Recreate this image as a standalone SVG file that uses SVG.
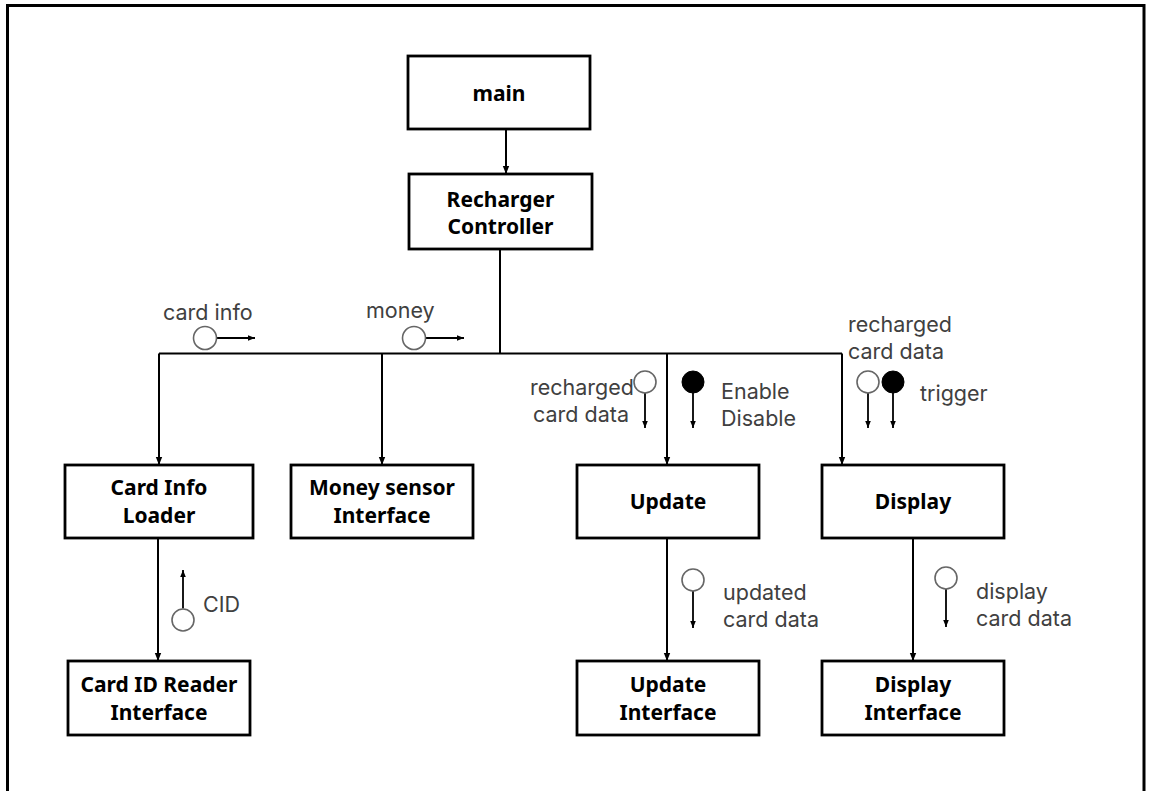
<svg xmlns="http://www.w3.org/2000/svg" width="1152" height="791" viewBox="0 0 1152 791">
<defs>
<marker id="ah" markerWidth="8" markerHeight="8" viewBox="0 0 8 8" refX="8" refY="4" orient="auto" markerUnits="userSpaceOnUse">
<path d="M0,0.8 L8,4 L0,7.2 Z" fill="#000"/>
</marker>
<marker id="ahs" markerWidth="7" markerHeight="7" viewBox="0 0 8 8" refX="8" refY="4" orient="auto" markerUnits="userSpaceOnUse">
<path d="M0,0.8 L8,4 L0,7.2 Z" fill="#000"/>
</marker>
</defs>
<style>
.box{fill:#fff;stroke:#000;stroke-width:2.8}
.nt{font-family:"Noto Sans","Liberation Sans",sans-serif;font-weight:bold;font-size:21px;fill:#000;text-anchor:middle}
.lb{font-family:Inter,"Noto Sans","Liberation Sans",sans-serif;font-size:21.5px;fill:#404040}
.cn{fill:none;stroke:#000;stroke-width:2}
.fl{fill:none;stroke:#000;stroke-width:1.8}
.oc{fill:#fff;stroke:#666;stroke-width:1.6}
.fc{fill:#000;stroke:#000;stroke-width:1}
</style>
<rect width="1152" height="791" fill="#fff"/>
<path d="M7.5,791 V5.5 H1144 V791" fill="none" stroke="#000" stroke-width="3"/>

<g id="connectors">
<line class="cn" x1="506" y1="129" x2="506" y2="174" marker-end="url(#ah)"/>
<path class="cn" d="M500,249 V353.5"/>
<path class="cn" d="M842,353.5 H159"/>
<line class="cn" x1="159" y1="353.5" x2="159" y2="465" marker-end="url(#ah)"/>
<line class="cn" x1="382" y1="353.5" x2="382" y2="465" marker-end="url(#ah)"/>
<line class="cn" x1="667" y1="353.5" x2="667" y2="465" marker-end="url(#ah)"/>
<line class="cn" x1="842" y1="353.5" x2="842" y2="465" marker-end="url(#ah)"/>
<line class="cn" x1="158" y1="538" x2="158" y2="661" marker-end="url(#ah)"/>
<line class="cn" x1="667" y1="538" x2="667" y2="661" marker-end="url(#ah)"/>
<line class="cn" x1="913" y1="538" x2="913" y2="661" marker-end="url(#ah)"/>
</g>

<g id="flows">
<g id="flow-card-info">
<line class="fl" x1="216.5" y1="338" x2="255" y2="338" marker-end="url(#ahs)"/>
<circle class="oc" cx="205" cy="338" r="11.5"/>
<text class="lb" x="163" y="320">card info</text>
</g>
<g id="flow-money">
<line class="fl" x1="425.5" y1="338" x2="464" y2="338" marker-end="url(#ahs)"/>
<circle class="oc" cx="414" cy="338" r="11.5"/>
<text class="lb" x="366" y="318">money</text>
</g>
<g id="flow-recharged-1">
<line class="fl" x1="645" y1="393" x2="645" y2="428" marker-end="url(#ahs)"/>
<circle class="oc" cx="645" cy="382" r="11"/>
<text class="lb" x="530" y="395">recharged</text>
<text class="lb" x="533" y="422">card data</text>
</g>
<g id="flow-enable">
<line class="fl" x1="693" y1="393" x2="693" y2="428" marker-end="url(#ahs)"/>
<circle class="fc" cx="693" cy="382" r="11"/>
<text class="lb" x="721" y="399">Enable</text>
<text class="lb" x="721" y="426">Disable</text>
</g>
<g id="flow-recharged-2">
<line class="fl" x1="868" y1="393" x2="868" y2="428" marker-end="url(#ahs)"/>
<circle class="oc" cx="868" cy="382" r="11"/>
<line class="fl" x1="893" y1="393" x2="893" y2="428" marker-end="url(#ahs)"/>
<circle class="fc" cx="893" cy="382" r="11"/>
<text class="lb" x="848" y="332">recharged</text>
<text class="lb" x="848" y="359">card data</text>
<text class="lb" x="920" y="401">trigger</text>
</g>
<g id="flow-cid">
<line class="fl" x1="183" y1="608.5" x2="183" y2="570" marker-end="url(#ahs)"/>
<circle class="oc" cx="183" cy="620" r="11"/>
<text class="lb" x="203" y="612">CID</text>
</g>
<g id="flow-updated">
<line class="fl" x1="693" y1="591" x2="693" y2="628" marker-end="url(#ahs)"/>
<circle class="oc" cx="693" cy="580" r="11"/>
<text class="lb" x="723" y="600">updated</text>
<text class="lb" x="723" y="627">card data</text>
</g>
<g id="flow-display">
<line class="fl" x1="946" y1="589" x2="946" y2="627" marker-end="url(#ahs)"/>
<circle class="oc" cx="946" cy="578" r="11"/>
<text class="lb" x="976" y="599">display</text>
<text class="lb" x="976" y="626">card data</text>
</g>
</g>

<g id="main">
<rect class="box" x="408" y="56" width="182" height="73"/>
<text class="nt" x="499" y="101">main</text>
</g>
<g id="recharger-controller">
<rect class="box" x="409" y="174" width="183" height="75"/>
<text class="nt" x="500.5" y="207">Recharger</text>
<text class="nt" x="500.5" y="234">Controller</text>
</g>
<g id="card-info-loader">
<rect class="box" x="65" y="465" width="188" height="73"/>
<text class="nt" x="159" y="495">Card Info</text>
<text class="nt" x="159" y="523">Loader</text>
</g>
<g id="money-sensor-interface">
<rect class="box" x="291" y="465" width="182" height="73"/>
<text class="nt" x="382" y="495">Money sensor</text>
<text class="nt" x="382" y="523">Interface</text>
</g>
<g id="update">
<rect class="box" x="577" y="465" width="182" height="73"/>
<text class="nt" x="668" y="509">Update</text>
</g>
<g id="display">
<rect class="box" x="822" y="465" width="182" height="73"/>
<text class="nt" x="913" y="509">Display</text>
</g>
<g id="card-id-reader-interface">
<rect class="box" x="68" y="661" width="182" height="74"/>
<text class="nt" x="159" y="692">Card ID Reader</text>
<text class="nt" x="159" y="720">Interface</text>
</g>
<g id="update-interface">
<rect class="box" x="577" y="661" width="182" height="74"/>
<text class="nt" x="668" y="692">Update</text>
<text class="nt" x="668" y="720">Interface</text>
</g>
<g id="display-interface">
<rect class="box" x="822" y="661" width="182" height="74"/>
<text class="nt" x="913" y="692">Display</text>
<text class="nt" x="913" y="720">Interface</text>
</g>
</svg>
